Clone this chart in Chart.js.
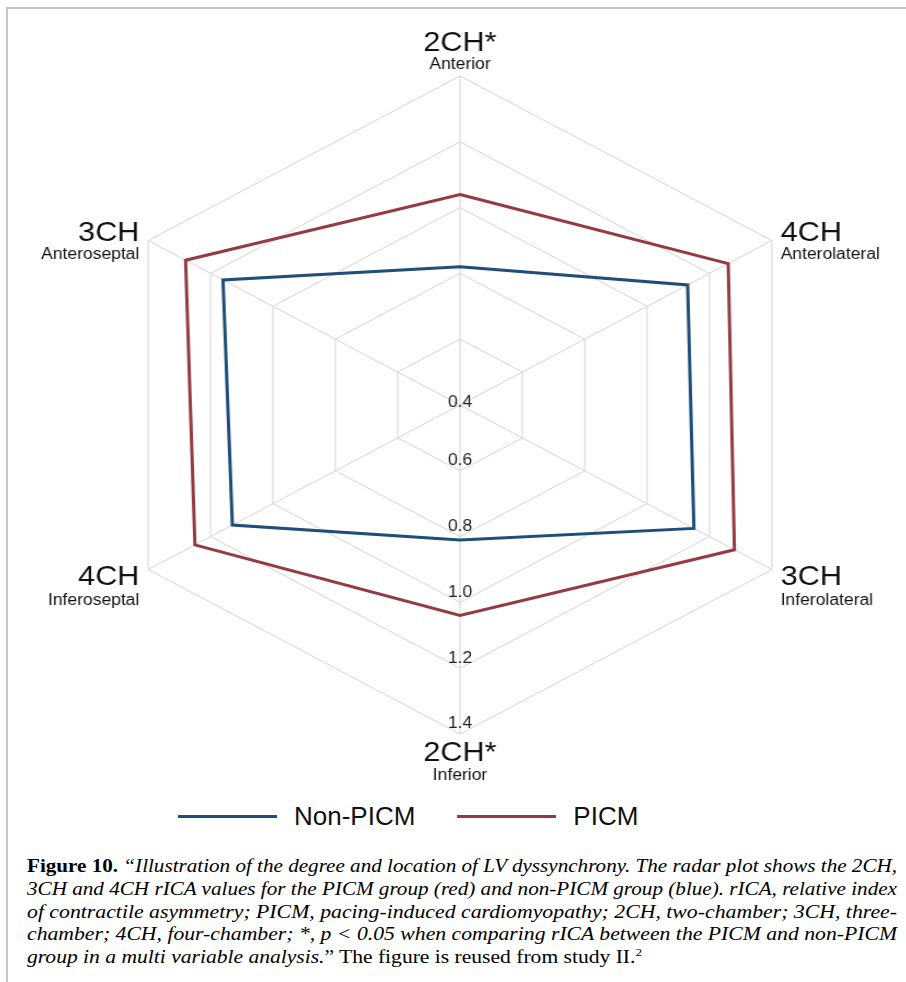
<!DOCTYPE html>
<html>
<head>
<meta charset="utf-8">
<script src="https://cdn.jsdelivr.net/npm/chart.js@4.4.1/dist/chart.umd.min.js"></script>
<style>
  body { margin: 0; background: #fff; width: 906px; height: 982px; overflow: hidden; position: relative; }
  #frame { position: absolute; left: 6px; top: 7px; right: -2px; bottom: -2px; border-top: 2px solid #c6c6c6; border-left: 2px solid #c6c6c6; }
  #radar { position: absolute; left: 20px; top: 20px; }
  #legend { position: absolute; left: 178px; top: 803px; display: flex; align-items: center; font-family: "Liberation Sans", Arial, sans-serif; font-size: 26px; line-height: 26px; color: #111; }
  #legend .swatch { width: 99px; height: 3px; }
  #caption { position: absolute; left: 27px; top: 855px; width: 880px; font-family: "Liberation Serif", "Times New Roman", serif; font-size: 18px; line-height: 22.8px; color: #000; }
  #caption div { white-space: nowrap; height: 22.8px; }
  #caption .fit { display: inline-block; white-space: nowrap; transform-origin: 0 50%; }
  #caption sup { font-size: 11px; vertical-align: 7px; line-height: 0; }
</style>
</head>
<body>
<div id="frame"></div>
<canvas id="radar" width="804" height="770" style="width:880px;height:770px"></canvas>
<div id="legend"></div>
<div id="caption">
  <div><span class="fit" data-w="870"><b>Figure 10.</b> <i>“Illustration of the degree and location of LV dyssynchrony. The radar plot shows the 2CH,</i></span></div>
  <div><span class="fit" data-w="870"><i>3CH and 4CH rICA values for the PICM group (red) and non-PICM group (blue). rICA, relative index</i></span></div>
  <div><span class="fit" data-w="870"><i>of contractile asymmetry; PICM, pacing-induced cardiomyopathy; 2CH, two-chamber; 3CH, three-</i></span></div>
  <div><span class="fit" data-w="870"><i>chamber; 4CH, four-chamber; *, p &lt; 0.05 when comparing rICA between the PICM and non-PICM</i></span></div>
  <div><span class="fit" data-w="615"><i>group in a multi variable analysis.</i>” The figure is reused from study II.<sup>2</sup></span></div>
</div>
<script>
// axes, clockwise from the top
const views = ['2CH*', '4CH', '3CH', '2CH*', '4CH', '3CH'];
const regions = ['Anterior', 'Anterolateral', 'Inferolateral', 'Inferior', 'Inferoseptal', 'Anteroseptal'];
const nonPicm = [0.82, 1.13, 1.15, 0.81, 1.13, 1.16];
const picm = [1.04, 1.26, 1.28, 1.04, 1.25, 1.28];
const tickLabels = ['0.4', '0.6', '0.8', '1.0', '1.2', '1.4'];

const blue = '#1f4e79';
const red = '#943a44';
const sansFont = '"Liberation Sans", Arial, sans-serif';

// labels at the corners: view name big, region below it
const cornerLabels = {
    id: 'cornerLabels',
    afterDraw(chart) {
        const scale = chart.scales.r;
        const ctx = chart.ctx;
        ctx.save();
        ctx.fillStyle = '#111';
        ctx.textBaseline = 'middle';
        views.forEach((view, i) => {
            const p = scale.getPointPosition(i, scale.drawingArea);
            const dx = p.x - scale.xCenter;
            let x = p.x, y1, y2;
            if (Math.abs(dx) < 1) {
                ctx.textAlign = 'center';
                if (p.y < scale.yCenter) { y1 = p.y - 33; y2 = p.y - 11; }
                else { y1 = p.y + 19; y2 = p.y + 42; }
            } else {
                ctx.textAlign = dx > 0 ? 'left' : 'right';
                x += dx > 0 ? 8 : -8;
                if (p.y < scale.yCenter) { y1 = p.y - 7; y2 = p.y + 14; }
                else { y1 = p.y + 8; y2 = p.y + 31; }
            }
            ctx.font = '28px ' + sansFont;
            ctx.fillText(view, x, y1);
            ctx.font = '16px ' + sansFont;
            ctx.fillText(regions[i], x, y2);
        });
        ctx.restore();
    }
};

// value labels run down the bottom axis, 0.4 sits in the middle
const axisTicks = {
    id: 'axisTicks',
    afterDraw(chart) {
        const scale = chart.scales.r;
        const ctx = chart.ctx;
        ctx.save();
        ctx.fillStyle = '#222';
        ctx.font = '16px ' + sansFont;
        ctx.textAlign = 'center';
        ctx.textBaseline = 'middle';
        tickLabels.forEach((label, i) => {
            const p = scale.getPointPositionForValue(3, parseFloat(label));
            ctx.fillText(label, p.x, p.y - (i === 0 ? 2 : 10));
        });
        ctx.restore();
    }
};

const chart = new Chart(document.getElementById('radar'), {
    type: 'radar',
    data: {
        labels: views.map((v, i) => v + ' ' + regions[i]),
        datasets: [
            { label: 'Non-PICM', data: nonPicm, borderColor: blue, backgroundColor: blue },
            { label: 'PICM', data: picm, borderColor: red, backgroundColor: red }
        ]
    },
    options: {
        responsive: false,
        animation: false,
        layout: { padding: { top: 56, bottom: 56, left: 60, right: 60 } },
        elements: {
            line: { borderWidth: 3, fill: false, tension: 0, borderJoinStyle: 'miter' },
            point: { radius: 0, hoverRadius: 0 }
        },
        scales: {
            r: {
                min: 0.4,
                max: 1.4,
                ticks: { stepSize: 0.2, display: false },
                grid: { color: '#d3d3d3', lineWidth: 1 },
                angleLines: { color: '#d3d3d3', lineWidth: 1 },
                pointLabels: { display: false }
            }
        },
        plugins: {
            legend: { display: false },
            tooltip: { enabled: false }
        }
    },
    plugins: [cornerLabels, axisTicks]
});

// legend under the plot, built from the datasets
const legend = document.getElementById('legend');
chart.data.datasets.forEach((ds, i) => {
    const sw = document.createElement('div');
    sw.className = 'swatch';
    sw.style.background = ds.borderColor;
    sw.style.marginLeft = i === 0 ? '0' : '42px';
    const txt = document.createElement('span');
    txt.textContent = ds.label;
    txt.style.marginLeft = '17px';
    legend.appendChild(sw);
    legend.appendChild(txt);
});

// caption lines are stretched to the widths they have in the figure
document.querySelectorAll('#caption .fit').forEach(el => {
    const target = parseFloat(el.dataset.w);
    const w = el.getBoundingClientRect().width;
    el.style.transform = 'scaleX(' + (target / w) + ')';
    el.style.marginRight = (target - w) + 'px';
});
</script>
</body>
</html>
